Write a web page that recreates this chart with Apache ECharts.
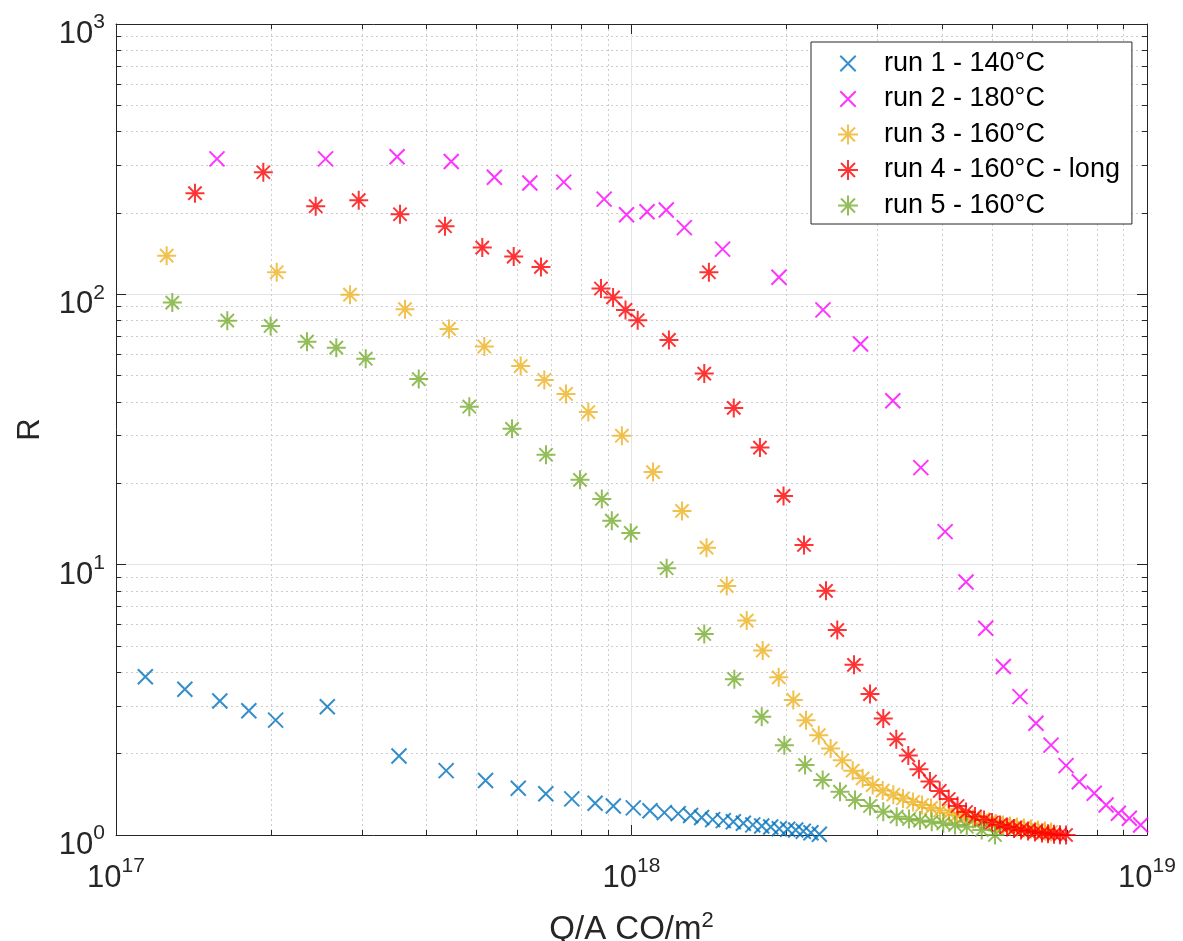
<!DOCTYPE html>
<html>
<head>
<meta charset="UTF-8">
<title>R vs Q/A</title>
<script src="https://cdn.jsdelivr.net/npm/echarts@6.0.0/dist/echarts.min.js"></script>
<style>
  html, body { margin: 0; padding: 0; background: #fff; }
  #main { width: 1183px; height: 941px; }
</style>
</head>
<body>
<div id="main"></div>
<script>
// series names (legend)
var names = ['run 1 - 140°C', 'run 2 - 180°C', 'run 3 - 160°C', 'run 4 - 160°C - long', 'run 5 - 160°C'];

// run 1 - 140°C
var x1 = [1.14e17, 1.36e17, 1.59e17, 1.81e17, 2.04e17, 2.57e17, 3.54e17, 4.37e17, 5.21e17, 6.03e17, 6.82e17,
  7.66e17, 8.50e17, 9.22e17, 1.008e18, 1.086e18, 1.158e18, 1.232e18, 1.302e18, 1.368e18, 1.437e18, 1.507e18,
  1.576e18, 1.648e18, 1.719e18, 1.789e18, 1.862e18, 1.935e18, 2.009e18, 2.082e18, 2.154e18, 2.229e18, 2.314e18];
var y1 = [3.85, 3.46, 3.13, 2.88, 2.66, 2.98, 1.96, 1.73, 1.59, 1.49, 1.42,
  1.36, 1.31, 1.28, 1.26, 1.23, 1.21, 1.20, 1.18, 1.16, 1.14, 1.13,
  1.12, 1.105, 1.09, 1.08, 1.07, 1.055, 1.05, 1.044, 1.032, 1.02, 1.006];

// run 2 - 180°C
var x2 = [1.57e17, 2.55e17, 3.51e17, 4.47e17, 5.42e17, 6.35e17, 7.39e17, 8.85e17, 9.78e17, 1.072e18, 1.168e18,
  1.266e18, 1.502e18, 1.932e18, 2.352e18, 2.782e18, 3.213e18, 3.641e18, 4.059e18, 4.456e18, 4.866e18, 5.264e18,
  5.67e18, 6.09e18, 6.513e18, 6.965e18, 7.39e18, 7.9e18, 8.33e18, 8.80e18, 9.24e18, 9.72e18];
var y2 = [317, 317, 323, 310, 271, 258, 260, 225, 197, 202, 205,
  176.5, 147, 115.7, 87.6, 65.5, 40.4, 22.85, 13.25, 8.63, 5.82, 4.2,
  3.25, 2.59, 2.15, 1.805, 1.575, 1.427, 1.291, 1.203, 1.153, 1.089];

// run 3 - 160°C
var x3 = [1.254e17, 2.050e17, 2.844e17, 3.636e17, 4.426e17, 5.182e17, 6.096e17, 6.774e17, 7.463e17, 8.246e17,
  9.58e17, 1.101e18, 1.253e18, 1.398e18, 1.530e18, 1.673e18, 1.797e18, 1.930e18, 2.06e18, 2.18e18,
  2.308e18, 2.434e18, 2.564e18, 2.686e18, 2.808e18, 2.937e18, 3.071e18, 3.220e18, 3.363e18, 3.517e18,
  3.661e18, 3.811e18, 3.967e18, 4.130e18, 4.280e18, 4.436e18, 4.597e18, 4.764e18, 4.937e18, 5.094e18,
  5.256e18, 5.423e18, 5.595e18, 5.773e18, 5.957e18, 6.146e18, 6.341e18, 6.513e18];
var y3 = [139, 120.7, 99.7, 88.1, 74.5, 64.1, 54.3, 48.2, 42.8, 36.7,
  30.0, 22.0, 15.8, 11.56, 8.34, 6.21, 4.81, 3.83, 3.16, 2.66,
  2.34, 2.09, 1.89, 1.73, 1.62, 1.53, 1.46, 1.41, 1.365, 1.325,
  1.291, 1.259, 1.232, 1.206, 1.186, 1.166, 1.146, 1.131, 1.117, 1.103,
  1.089, 1.08, 1.071, 1.062, 1.052, 1.044, 1.035, 1.026];

// run 4 - 160°C - long
var x4 = [1.423e17, 1.931e17, 2.440e17, 2.957e17, 3.556e17, 4.347e17, 5.135e17, 5.909e17, 6.674e17, 8.726e17,
  9.21e17, 9.736e17, 1.028e18, 1.182e18, 1.413e18, 1.384e18, 1.579e18, 1.775e18, 1.972e18, 2.161e18,
  2.384e18, 2.507e18, 2.702e18, 2.902e18, 3.079e18, 3.263e18, 3.443e18, 3.611e18, 3.793e18, 3.962e18,
  4.124e18, 4.290e18, 4.456e18, 4.638e18, 4.829e18, 5.004e18, 5.186e18, 5.350e18, 5.521e18, 5.696e18,
  5.877e18, 6.063e18, 6.256e18, 6.427e18, 6.601e18, 6.78e18, 6.965e18];
var y4 = [236.6, 282.9, 211.8, 222.9, 197.8, 178.6, 148.9, 137.9, 126.3, 105.1,
  97.4, 87.6, 80.2, 67.8, 120.7, 50.9, 38.0, 27.1, 17.96, 11.83,
  8.0, 5.73, 4.26, 3.32, 2.70, 2.26, 1.97, 1.75, 1.577, 1.455,
  1.359, 1.28, 1.216, 1.171, 1.136, 1.112, 1.089, 1.071, 1.057, 1.044,
  1.035, 1.026, 1.017, 1.011, 1.007, 1.003, 1.0];

// run 5 - 160°C
var x5 = [1.286e17, 1.644e17, 1.995e17, 2.347e17, 2.675e17, 3.051e17, 3.866e17, 4.846e17, 5.865e17, 6.826e17,
  7.945e17, 8.758e17, 9.158e17, 9.968e17, 1.170e18, 1.384e18, 1.583e18, 1.789e18, 1.979e18, 2.171e18,
  2.349e18, 2.538e18, 2.714e18, 2.902e18, 3.079e18, 3.269e18, 3.453e18, 3.628e18, 3.823e18, 4.026e18,
  4.242e18, 4.471e18, 4.779e18, 5.071e18];
var y5 = [93.2, 79.9, 76.4, 66.8, 63.5, 57.8, 48.6, 38.4, 31.8, 25.5,
  20.6, 17.5, 14.55, 13.1, 9.7, 5.54, 3.77, 2.74, 2.15, 1.815,
  1.597, 1.446, 1.347, 1.28, 1.219, 1.169, 1.146, 1.131, 1.12, 1.105,
  1.089, 1.073, 1.044, 1.0];

var colors = ['#0072BD', '#FF00FF', '#EDB120', '#FF0000', '#77AC30'];

var axisColor = '#262626';
var fontFam = '"Liberation Sans", Arial, Helvetica, sans-serif';
// marker shapes (stroked paths)
var crossSym = 'path://M-1.3,-1.3L-1.3,-1.3M1.3,1.3L1.3,1.3M-1,-1L1,1M-1,1L1,-1';
var starSym = 'path://M0,-1L0,1M-1,0L1,0M-0.7,-0.7L0.7,0.7M-0.7,0.7L0.7,-0.7';

function powLabel(v) {
  var e = Math.round(Math.log(v) / Math.LN10);
  return '{b|10}{s|' + e + '}';
}
var labelRich = {
  b: { fontSize: 31, lineHeight: 38, verticalAlign: 'bottom', color: axisColor, fontFamily: fontFam },
  s: { fontSize: 21, lineHeight: 14, verticalAlign: 'top', color: axisColor, fontFamily: fontFam }
};

function mk(i, xs, ys, sym, size) {
  var d = [];
  for (var k = 0; k < xs.length; k++) d.push([xs[k], ys[k]]);
  return {
    name: names[i], type: 'scatter', data: d, symbol: sym, symbolSize: size, clip: false, silent: true,
    itemStyle: { color: 'transparent', borderColor: colors[i], borderWidth: 2 }
  };
}

function logAxis(pos, min, max, extra) {
  var a = {
    type: 'log', logBase: 10, min: min, max: max, position: pos,
    axisLine: { show: true, onZero: false, lineStyle: { color: axisColor, width: 1 } },
    axisTick: { show: true, inside: true, length: 10, lineStyle: { color: axisColor, width: 1 } },
    minorTick: { show: true, splitNumber: 9, length: 5, lineStyle: { color: axisColor, width: 1 } },
    axisLabel: { show: false },
    splitLine: { show: false },
    minorSplitLine: { show: false }
  };
  for (var k in extra) a[k] = extra[k];
  return a;
}

var chart = echarts.init(document.getElementById('main'));
chart.setOption({
  animation: false,
  backgroundColor: '#fff',
  grid: { left: 116, right: 36, top: 24, bottom: 106, outerBoundsMode: 'none', containLabel: false },
  legend: {
    orient: 'vertical', left: 811, top: 42,
    itemWidth: 62, itemHeight: 20, itemGap: 8.5,
    padding: [8, 12, 5, 26],
    backgroundColor: '#fff', borderColor: axisColor, borderWidth: 1,
    selectedMode: false,
    textStyle: { fontSize: 27, color: '#000', fontFamily: fontFam },
    data: names
  },
  xAxis: [
    logAxis('bottom', 1e17, 1e19, {
      axisLabel: { show: true, margin: 21, formatter: powLabel, rich: labelRich },
      splitLine: { show: true, lineStyle: { color: '#e4e4e4', width: 1 } },
      minorSplitLine: { show: true, lineStyle: { color: '#cdcdcd', width: 1, type: [2, 3] } },
      name: '{n|Q/A CO/m}{s|2}', nameLocation: 'middle', nameGap: 75,
      nameTextStyle: {
        rich: {
          n: { fontSize: 33, lineHeight: 36, verticalAlign: 'bottom', color: axisColor, fontFamily: fontFam },
          s: { fontSize: 22, lineHeight: 8, verticalAlign: 'top', color: axisColor, fontFamily: fontFam }
        }
      }
    }),
    logAxis('top', 1e17, 1e19, {})
  ],
  yAxis: [
    logAxis('left', 1, 1000, {
      axisLabel: { show: true, margin: 11, padding: [14, 0, 0, 0], formatter: powLabel, rich: labelRich },
      splitLine: { show: true, lineStyle: { color: '#e4e4e4', width: 1 } },
      minorSplitLine: { show: true, lineStyle: { color: '#cdcdcd', width: 1, type: [2, 3] } },
      name: 'R', nameLocation: 'middle', nameGap: 70,
      nameTextStyle: { fontSize: 31, color: axisColor, fontFamily: fontFam }
    }),
    logAxis('right', 1, 1000, {})
  ],
  series: [
    mk(0, x1, y1, crossSym, 19.5),
    mk(1, x2, y2, crossSym, 19.5),
    mk(2, x3, y3, starSym, 19),
    mk(3, x4, y4, starSym, 19),
    mk(4, x5, y5, starSym, 19)
  ]
});
</script>
</body>
</html>
